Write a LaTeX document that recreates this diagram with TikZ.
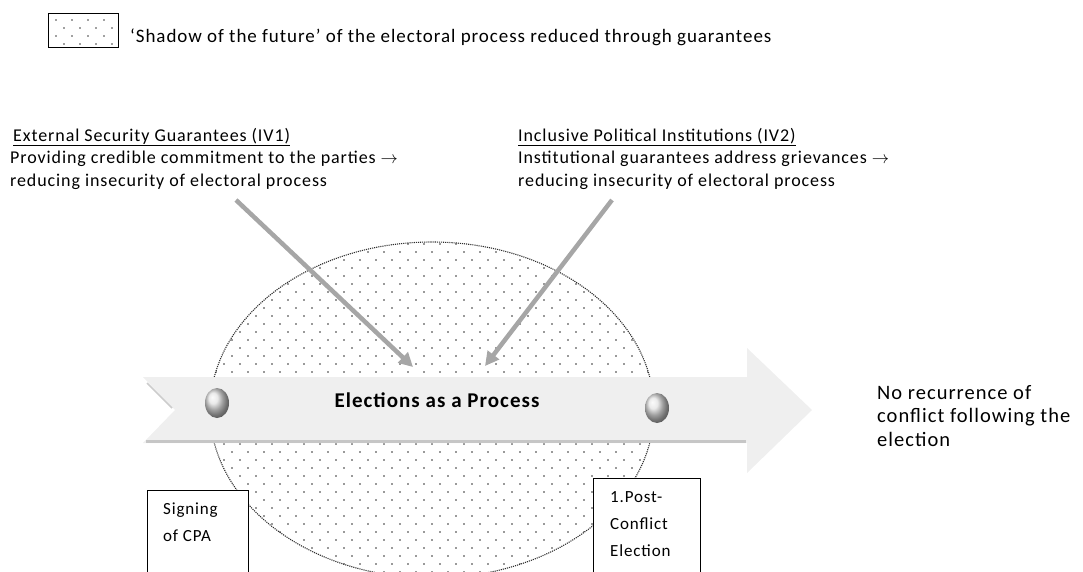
\documentclass[tikz,border=0pt]{standalone}
\usepackage{fontspec}
\setmainfont{Carlito}[LetterSpace=5]
\usetikzlibrary{patterns,arrows.meta,positioning}

% sparse staggered dots for the shadow of the future
\pgfdeclarepatternformonly{sparsedots}{\pgfpoint{-1pt}{-1pt}}{\pgfpoint{17pt}{17pt}}{\pgfpoint{16pt}{16pt}}{%
  \pgfpathcircle{\pgfpoint{0pt}{0pt}}{0.85pt}%
  \pgfpathcircle{\pgfpoint{8pt}{8pt}}{0.85pt}%
  \pgfusepath{fill}}

\definecolor{bandgray}{HTML}{EFEFEF}
\definecolor{linkgray}{HTML}{A6A6A6}

\tikzset{
  blocktext/.style={anchor=north west, inner sep=0pt, align=left, font=\fontsize{18}{22.5}\selectfont},
  stagebox/.style={draw, line width=1.2pt, fill=white, anchor=north west, inner sep=0pt, minimum width=101pt, minimum height=100pt},
  stagetext/.style={anchor=north west, inner sep=0pt, align=left, font=\fontsize{17}{27}\selectfont},
  guarantee/.style={draw=linkgray, line width=4.5pt, -{Triangle[length=14pt,width=14pt]}},
}

\begin{document}
\begin{tikzpicture}[x=1pt, y=-1pt]
\useasboundingbox (0,0) rectangle (1083,572);
\clip (0,0) rectangle (1083,572);

% legend
\node[draw, line width=1.3pt, anchor=north west, minimum width=70pt, minimum height=34pt, inner sep=0pt,
      pattern=sparsedots, pattern color=black!75] (legendkey) at (48,13) {};
\node[anchor=base west, inner sep=0pt, font=\fontsize{19}{23}\selectfont] (legendtext) at (130,43)
  {‘Shadow of the future’ of the electoral process reduced through guarantees};

% independent variables
\node[blocktext] (ivone) at (10,128) {\hspace*{3pt}\underline{External Security Guarantees (IV1)}\\
  Providing credible commitment to the parties $\rightarrow$\\reducing insecurity of electoral process};
\node[blocktext] (ivtwo) at (518,128) {\underline{Inclusive Political Institutions (IV2)}\\
  Institutional guarantees address grievances $\rightarrow$\\reducing insecurity of electoral process};

% shadow of the future
\draw[densely dotted, gray!35!black, line width=1.1pt, pattern=sparsedots, pattern color=black!80]
  (432,410) ellipse [x radius=222, y radius=168];

% process arrow
\fill[bandgray] (143,377) -- (747,377) -- (747,348) -- (812,410) -- (747,473) -- (747,443)
  -- (143,443) -- (175,410) -- cycle;
\draw[gray!45, line width=3pt] (146,441) -- (746,441);
\draw[gray!40, line width=1.5pt] (147,383) -- (172,408);
\shade[ball color=gray!22] (217,403) ellipse [x radius=12, y radius=15];
\shade[ball color=gray!22] (657,408) ellipse [x radius=12, y radius=15];
\node[anchor=base, inner sep=0pt, font=\fontsize{21}{25}\bfseries\selectfont] (process) at (437,407) {Elections as a Process};

% guarantees acting on the process
\coordinate (ivonefoot) at (236,200);
\coordinate (ivonehead) at (413,367);
\coordinate (ivtwofoot) at (612,200);
\coordinate (ivtwohead) at (485,366);
\draw[guarantee] (ivonefoot) -- (ivonehead);
\draw[guarantee] (ivtwofoot) -- (ivtwohead);

% outcome
\node[blocktext, font=\fontsize{20.5}{23.5}\selectfont] (outcome) at (877,385)
  {No recurrence of\\conflict following the\\election};

% stages
\node[stagebox] (signing) at (147,490) {};
\node[stagetext] (signingtext) at ([xshift=16pt, yshift=-13pt]signing.north west) {Signing\\of CPA};
\node[stagebox, minimum width=107pt] (postconflict) at (593,478) {};
\node[stagetext] (postconflicttext) at ([xshift=17pt, yshift=-13pt]postconflict.north west) {1.Post-\\Conflict\\Election};
\end{tikzpicture}
\end{document}
